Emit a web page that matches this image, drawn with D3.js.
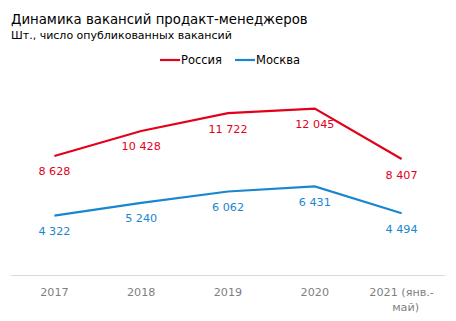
<!DOCTYPE html>
<html><head><meta charset="utf-8">
<script src="https://cdn.jsdelivr.net/npm/d3@7"></script>
<style>body{margin:0;background:#fff}svg{display:block}text{font-family:"DejaVu Sans",Verdana,sans-serif}</style>
</head><body>
<svg id="c" width="456" height="321"></svg>
<script>
const categories = ["2017","2018","2019","2020","2021 (янв.-май)"];
const russia = [8628, 10428, 11722, 12045, 8407];
const moscow = [4322, 5240, 6062, 6431, 4494];
const seriesNames = ["Россия","Москва"];
const colors = ["#e2001a","#1a86d0"];

const svg = d3.select("#c");
const x = d3.scaleBand().domain(categories).range([11,445]);
const y = d3.scaleLinear().domain([0,14000]).range([275.5,81.5]);

svg.append("text").attr("x",11).attr("y",24).attr("font-size",13.3).attr("fill","#000").text("Динамика вакансий продакт-менеджеров");
svg.append("text").attr("x",11).attr("y",39).attr("font-size",11).attr("fill","#000").text("Шт., число опубликованных вакансий");

// axis
svg.append("line").attr("x1",11).attr("x2",445).attr("y1",275.5).attr("y2",275.5).attr("stroke","#d9d9d9").attr("stroke-width",1);
const ax = svg.append("g").attr("font-size",11.2).attr("fill","#7f7f7f");
categories.forEach(c=>{
  const cx = x(c)+x.bandwidth()/2;
  if (c.indexOf("(") >= 0) {
    const parts = ["2021 (янв.-","май)"];
    ax.append("text").attr("x",cx).attr("y",296).attr("text-anchor","middle").text(parts[0]);
    ax.append("text").attr("x",cx+4).attr("y",311).attr("text-anchor","middle").text(parts[1]);
  } else {
    ax.append("text").attr("x",cx).attr("y",296).attr("text-anchor","middle").text(c);
  }
});

const line = d3.line().x((d,i)=>x(categories[i])+x.bandwidth()/2).y(d=>y(d));
const fmt = v => d3.format(",")(v).replace(/,/g," ");
[russia, moscow].forEach((s,k)=>{
  svg.append("path").attr("d",line(s)).attr("fill","none").attr("stroke",colors[k]).attr("stroke-width",2.2);
  svg.append("g").selectAll("text").data(s).join("text")
    .attr("x",(d,i)=>x(categories[i])+x.bandwidth()/2).attr("y",d=>y(d)+19.5)
    .attr("text-anchor","middle").attr("font-size",11.2).attr("fill",colors[k]).text(fmt);
});

// legend
const lg = [{x:160,n:0},{x:235,n:1}];
lg.forEach(l=>{
  svg.append("line").attr("x1",l.x).attr("x2",l.x+20).attr("y1",60).attr("y2",60).attr("stroke",colors[l.n]).attr("stroke-width",2.2);
  svg.append("text").attr("x",l.x+21).attr("y",64).attr("font-size",11.5).attr("fill","#000").text(seriesNames[l.n]);
});
</script>
</body></html>
